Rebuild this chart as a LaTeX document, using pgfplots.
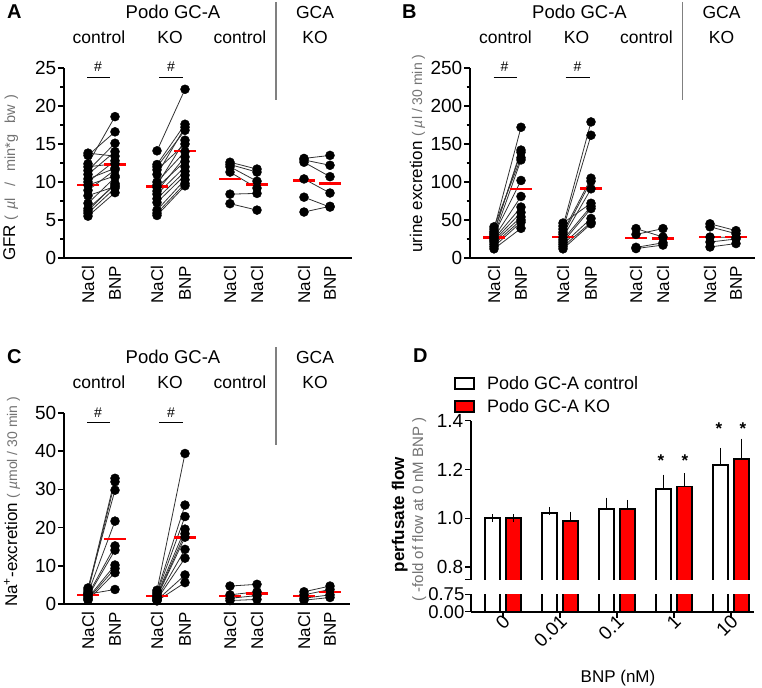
\documentclass[border=0pt]{standalone}
\usepackage{fontspec}
\setmainfont{Liberation Sans}
\usepackage{pgfplots}
\usepackage{pgfplotstable}
\pgfplotsset{compat=1.18}
\newcommand\fs[1]{\fontsize{#1bp}{#1bp}\selectfont}

% ---------- Panel A (GFR) : columns n = NaCl (first), b = second measurement
\pgfplotstableread{
n b
13.8 13.4
13.5 16.6
12.4 18.6
12.0 12.4
11.5 15.1
11.0 14.0
10.4 11.8
10.0 12.8
9.6 10.8
8.9 11.6
8.2 9.4
7.2 10.6
6.5 9.6
6.2 9.8
5.9 9.2
5.5 8.6
}\Actrl
\pgfplotstableread{
n b
14.1 22.2
12.3 17.6
12.0 16.8
11.6 15.0
11.0 17.2
10.0 14.0
9.6 15.5
9.3 12.7
8.8 13.3
8.4 12.0
7.8 11.4
7.3 10.9
6.3 10.3
5.9 9.8
5.6 9.5
}\Ako
\pgfplotstableread{
n b
12.6 11.7
12.3 11.3
12.0 10.1
11.3 9.2
8.4 8.5
7.15 6.3
}\Actrlb
\pgfplotstableread{
n b
13.1 13.5
12.9 12.2
12.6 10.7
10.4 8.55
8.0 6.7
6.05 6.8
}\Agca
% ---------- Panel B (urine excretion)
\pgfplotstableread{
n b
41 132
38 172
35 139
33 142
31 102
29 129
27 81
25 67
23 60
21 54
18 50
15 47
12 39
}\Bctrl
\pgfplotstableread{
n b
46 72
42 179
38 161.5
34 105
31 101
27 91
24 68
21 65
18 52
15 47
12 45
}\Bko
\pgfplotstableread{
n b
38.7 27.6
31 38.7
14 20
12.4 17
}\Bctrlb
\pgfplotstableread{
n b
45 36
41 32
27.6 27
21 25
14.5 19
}\Bgca
% ---------- Panel C (Na+ excretion)
\pgfplotstableread{
n b
4.2 29.8
3.7 32.9
3.2 32.0
2.8 21.7
2.4 15.2
2.0 14.1
1.6 10.2
1.3 9.3
1.0 8.2
2.6 3.8
}\Cctrl
\pgfplotstableread{
n b
3.6 39.4
3.2 25.9
2.8 22.9
2.4 19.6
2.0 18.4
1.8 17.5
1.5 14.3
1.2 12.0
1.0 7.6
0.8 5.6
}\Cko
\pgfplotstableread{
n b
4.7 5.15
2.4 3.2
1.5 2.2
0.9 1.2
}\Cctrlb
\pgfplotstableread{
n b
3.2 4.7
2.4 3.8
1.5 2.4
1.0 1.7
}\Cgca
% ---------- Panel D (perfusate flow), x = position in axis units
\pgfplotstableread{
x y err
21.5 1.000 0
78.5 1.021 0.009
135.5 1.038 0.030
192.5 1.120 0.043
249.5 1.219 0.053
}\Dctrl
\pgfplotstableread{
x y err
42.5 1.000 0
99.5 0.988 0.023
156.5 1.038 0.021
213.5 1.130 0.038
270.5 1.242 0.068
}\Dko

\pgfplotsset{
  dotax/.style={
    scale only axis, clip=false, anchor=south west,
    width=288bp, xmin=0, xmax=288,
    axis x line*=bottom, axis y line*=left,
    axis line style={line width=2bp, black},
    xtick={24,51,93,121,166,193,240,266},
    xticklabels={NaCl,BNP,NaCl,BNP,NaCl,NaCl,NaCl,BNP},
    xtick style={draw=none},
    tick align=outside, major tick length=6bp, minor tick length=3.5bp,
    every tick/.append style={line width=1.5bp, black},
    yticklabel style={font=\fs{19}, inner sep=1.5bp},
    xticklabel style={font=\fs{17}, inner sep=1.5bp, rotate=90, anchor=east},
    /pgf/number format/assume math mode=true,
  },
  pair/.style={line width=0.8bp, black!80, no markers},
  dot/.style={only marks, mark=*, mark size=4.5bp, mark options={fill=black, draw=black}},
  mean/.style={red, line width=2.5bp, no markers},
}
\newcommand\grp[3]{%
  \addplot[pair, quiver={u=#3-#2, v=\thisrow{b}-\thisrow{n}}] table[x expr=#2, y=n]{#1};
  \addplot[dot] table[x expr=#2, y=n]{#1};
  \addplot[dot] table[x expr=#3, y=b]{#1};
}
\newcommand\hdr{%
  \node[anchor=base, font=\fs{18.5}] at (173bp,669.7bp) {Podo GC-A};
  \node[anchor=base, font=\fs{17.5}] at (99bp,644.7bp) {control};
  \node[anchor=base, font=\fs{17.5}] at (170bp,644.7bp) {KO};
  \node[anchor=base, font=\fs{17.5}] at (240bp,644.7bp) {control};
  \node[anchor=base, font=\fs{17.5}] at (315bp,669.7bp) {GCA};
  \node[anchor=base, font=\fs{17.5}] at (315bp,644.7bp) {KO};
  \draw[black!50, line width=1.3bp] (276bp,686bp) -- (276bp,588bp);
  \node[font=\fs{14}] at (98bp,621bp) {\#};
  \draw[line width=0.9bp] (87bp,610.7bp) -- (110bp,610.7bp);
  \node[font=\fs{14}] at (171bp,621bp) {\#};
  \draw[line width=0.9bp] (159bp,610.7bp) -- (183bp,610.7bp);
}

\begin{document}
\begin{tikzpicture}
\fill[white] (0,0) rectangle (762bp,688bp);
\path[use as bounding box] (0,0) rectangle (762bp,688bp);

% ===== A
\begin{axis}[dotax, at={(64bp,430bp)}, height=190bp, ymin=0, ymax=25,
  ytick={0,5,...,25}, minor y tick num=1]
\grp{\Actrl}{24}{51}
\grp{\Ako}{93}{121}
\grp{\Actrlb}{166}{193}
\grp{\Agca}{240}{266}
\addplot[mean] coordinates {(13,9.6) (35,9.6)};
\addplot[mean] coordinates {(40,12.3) (62,12.3)};
\addplot[mean] coordinates {(82,9.4) (104,9.4)};
\addplot[mean] coordinates {(110,14.1) (132,14.1)};
\addplot[mean] coordinates {(155,10.4) (177,10.4)};
\addplot[mean] coordinates {(182,9.7) (204,9.7)};
\addplot[mean] coordinates {(229,10.2) (251,10.2)};
\addplot[mean] coordinates {(255,9.8) (277,9.8)};
\end{axis}

% ===== B
\begin{axis}[dotax, at={(470bp,430bp)}, width=285bp, xmax=285, height=190bp, ymin=0, ymax=250,
  ytick={0,50,...,250}, minor y tick num=1]
\grp{\Bctrl}{24}{51}
\grp{\Bko}{93}{121}
\grp{\Bctrlb}{166}{193}
\grp{\Bgca}{240}{266}
\addplot[mean] coordinates {(13,27) (35,27)};
\addplot[mean] coordinates {(40,90.5) (62,90.5)};
\addplot[mean] coordinates {(82,27.6) (104,27.6)};
\addplot[mean] coordinates {(110,91.3) (132,91.3)};
\addplot[mean] coordinates {(155,26.5) (177,26.5)};
\addplot[mean] coordinates {(182,25.5) (204,25.5)};
\addplot[mean] coordinates {(229,27.5) (251,27.5)};
\addplot[mean] coordinates {(255,27.5) (277,27.5)};
\end{axis}

% ===== C
\begin{axis}[dotax, at={(64bp,84bp)}, width=286bp, xmax=286, height=191bp, ymin=0, ymax=50,
  ytick={0,10,...,50}]
\grp{\Cctrl}{24}{51}
\grp{\Cko}{93}{121}
\grp{\Cctrlb}{166}{193}
\grp{\Cgca}{240}{266}
\addplot[mean] coordinates {(13,2.4) (35,2.4)};
\addplot[mean] coordinates {(40,17.0) (62,17.0)};
\addplot[mean] coordinates {(82,2.1) (104,2.1)};
\addplot[mean] coordinates {(110,17.4) (132,17.4)};
\addplot[mean] coordinates {(155,2.1) (177,2.1)};
\addplot[mean] coordinates {(182,2.8) (204,2.8)};
\addplot[mean] coordinates {(229,2.1) (251,2.1)};
\addplot[mean] coordinates {(255,3.1) (277,3.1)};
\end{axis}

% ===== D upper part (extends to 0.70; the 0.70-0.75 strip is the axis break, blanked below)
\begin{axis}[scale only axis, at={(471bp,96.5bp)}, anchor=south west,
  width=283bp, height=170.8bp, xmin=0, xmax=283, ymin=0.70, ymax=1.4,
  axis x line=none, axis y line*=left, axis line style={line width=2bp, black},
  ytick={0.75,0.8,1.0,1.2,1.4}, yticklabels={,0.8,1.0,1.2,1.4},
  tick align=outside, major tick length=6bp,
  every tick/.append style={line width=1.5bp, black},
  yticklabel style={font=\fs{19}, inner sep=1.5bp},
  ybar, bar width=15, bar shift=0pt, clip mode=individual,
  legend image code/.code={\draw[#1] (0bp,-5.5bp) rectangle (19bp,5.5bp);},
  legend style={at={(axis description cs:-0.06,1.269)}, anchor=north west,
    draw=none, fill=none, inner sep=0pt, row sep=6.5bp, column sep=11bp,
    font=\fs{18}, nodes={inner sep=1bp}},
  legend cell align=left]
\addplot[forget plot, draw=black, fill=white, line width=1.8bp,
  error bars/.cd, y dir=plus, y explicit,
  error bar style={line width=1.8bp, black},
  error mark options={line width=1.8bp, mark size=4bp, black}]
  table[x=x, y=y, y error=err]{\Dctrl};
\addplot[forget plot, draw=black, fill=red, line width=1.8bp,
  error bars/.cd, y dir=plus, y explicit,
  error bar style={line width=1.8bp, black},
  error mark options={line width=1.8bp, mark size=4bp, black}]
  table[x=x, y=y, y error=err]{\Dko};
\addlegendimage{draw=black, fill=white, line width=1.8bp}
\addlegendentry{Podo GC-A control}
\addlegendimage{draw=black, fill=red, line width=1.8bp}
\addlegendentry{Podo GC-A KO}
\node[font=\bfseries\fs{17}] at (axis cs:190,1.236) {*};
\node[font=\bfseries\fs{17}] at (axis cs:214,1.236) {*};
\node[font=\bfseries\fs{17}] at (axis cs:248,1.367) {*};
\node[font=\bfseries\fs{17}] at (axis cs:272,1.367) {*};
\end{axis}
% blank the break strip between the two y segments
\fill[white] (460bp,94.9bp) rectangle (758bp,107.6bp);

% ===== D lower part
\begin{axis}[scale only axis, at={(471bp,76.3bp)}, anchor=south west,
  width=283bp, height=17.4bp, xmin=0, xmax=283, ymin=0, ymax=0.75,
  axis x line*=bottom, axis y line*=left, axis line style={line width=2bp, black},
  ytick={0,0.75}, yticklabels={0.00,0.75},
  xtick={32,89,146,203,260}, xticklabels={0,0.01,0.1,1,10},
  tick align=outside, major tick length=6bp,
  every tick/.append style={line width=1.5bp, black},
  yticklabel style={font=\fs{18.5}, inner sep=0.5bp},
  xticklabel style={font=\fs{19}, inner sep=0.5bp, xshift=4bp, rotate=45, anchor=east},
  ybar, bar width=15, bar shift=0pt, clip mode=individual]
\addplot[draw=black, fill=white, line width=1.8bp] table[x=x, y=y]{\Dctrl};
\addplot[draw=black, fill=red, line width=1.8bp] table[x=x, y=y]{\Dko};
\end{axis}

% ===== headers and labels
\hdr
\begin{scope}[xshift=406.5bp]\hdr\end{scope}
\begin{scope}[yshift=-345.5bp]\hdr\end{scope}

\node[anchor=base west, font=\bfseries\fs{20}, inner sep=0] at (7bp,669.7bp) {A};
\node[anchor=base west, font=\bfseries\fs{20}, inner sep=0] at (402bp,669.7bp) {B};
\node[anchor=base west, font=\bfseries\fs{20}, inner sep=0] at (7bp,324.7bp) {C};
\node[anchor=base west, font=\bfseries\fs{20}, inner sep=0] at (413bp,325bp) {D};

\node[rotate=90, anchor=base west, inner sep=0] at (15bp,427bp)
  {\fs{17}GFR \color{black!55}\fs{14.5}(\hspace{6bp}\textit{µ}l\hspace{11bp}/\hspace{11bp}min*g\hspace{11bp}bw\hspace{6bp})};
\node[rotate=90, anchor=base west, inner sep=0] at (422bp,435bp)
  {\fs{17}urine excretion \color{black!55}\fs{14}( \textit{µ}l / 30 min )};
\node[rotate=90, anchor=base west, inner sep=0] at (17bp,81bp)
  {\fs{17}Na\textsuperscript{+}-excretion \color{black!55}\fs{14}( \textit{µ}mol / 30 min )};
\node[rotate=90, anchor=base, inner sep=0, font=\bfseries\fs{17}] at (404bp,173.5bp) {perfusate flow};
\node[rotate=90, anchor=base, inner sep=0, text=black!55, font=\fs{15}] at (423bp,178.5bp) {( -fold of flow at 0 nM BNP )};
\node[font=\fs{17}] at (618bp,10bp) {BNP (nM)};
\end{tikzpicture}
\end{document}
